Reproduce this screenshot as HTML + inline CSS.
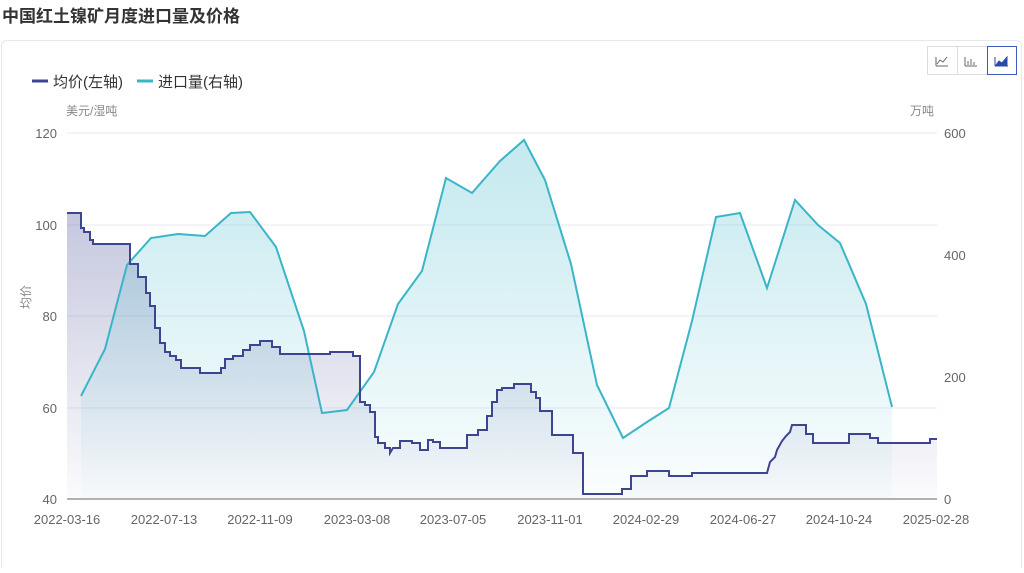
<!DOCTYPE html>
<html><head><meta charset="utf-8"><style>
body{margin:0;background:#fff;font-family:"Liberation Sans","Noto Sans CJK SC",sans-serif;}
</style></head><body>
<svg width="1024" height="568" xmlns="http://www.w3.org/2000/svg" font-family="Liberation Sans, Noto Sans CJK SC, sans-serif">
<defs>
<linearGradient id="gp" x1="0" y1="0" x2="0" y2="1"><stop offset="0" stop-color="#3d4590" stop-opacity="0.3"/><stop offset="1" stop-color="#3d4590" stop-opacity="0.02"/></linearGradient>
<linearGradient id="gi" x1="0" y1="0" x2="0" y2="1"><stop offset="0" stop-color="#3ab5c8" stop-opacity="0.3"/><stop offset="1" stop-color="#3ab5c8" stop-opacity="0.02"/></linearGradient>
</defs>
<text x="2" y="22" font-size="17" font-weight="bold" fill="#333">中国红土镍矿月度进口量及价格</text>
<rect x="1.5" y="40.5" width="1020" height="540" rx="5" fill="#fff" stroke="#e6e8ee"/>
<g stroke="#ddd" fill="#fff"><rect x="927.5" y="46.5" width="30" height="28"/><rect x="957.5" y="46.5" width="30" height="28"/></g>
<rect x="987.5" y="46.5" width="29" height="28" fill="#fff" stroke="#3b5cb8"/>
<path d="M936 66h12M936 66v-9M937 64l3-4 3 2 4-5" stroke="#666" fill="none"/>
<path d="M965 66h12M965 66v-9M968 65v-4M971 65v-6M974 65v-3" stroke="#666" fill="none"/>
<path d="M995 66h13M995 66v-9M996 65l3-4 3 2 5-6v8z" stroke="#2a4ca8" fill="#2a4ca8"/>
<line x1="32" y1="81" x2="48" y2="81" stroke="#3d4590" stroke-width="3"/>
<text x="53" y="87" font-size="15" fill="#333">均价(左轴)</text>
<line x1="137" y1="81" x2="153" y2="81" stroke="#3ab5c8" stroke-width="3"/>
<text x="158" y="87" font-size="15" fill="#333">进口量(右轴)</text>
<text x="66" y="115" font-size="12" fill="#888">美元/湿吨</text>
<text x="910" y="115" font-size="12" fill="#888">万吨</text>
<text x="30" y="297" font-size="12" fill="#888" transform="rotate(-90 30 297)" text-anchor="middle">均价</text>
<g stroke="#e8eaf2"><line x1="67" y1="133" x2="937" y2="133"/><line x1="67" y1="225" x2="937" y2="225"/><line x1="67" y1="316" x2="937" y2="316"/><line x1="67" y1="408" x2="937" y2="408"/></g>
<line x1="67" y1="499" x2="937" y2="499" stroke="#666"/>
<g font-size="13" fill="#666" text-anchor="end"><text x="57" y="138">120</text><text x="57" y="230">100</text><text x="57" y="321">80</text><text x="57" y="413">60</text><text x="57" y="504">40</text></g>
<g font-size="13" fill="#666"><text x="944" y="138">600</text><text x="944" y="260">400</text><text x="944" y="382">200</text><text x="944" y="504">0</text></g>
<g font-size="13" fill="#666" text-anchor="middle"><text x="67" y="524">2022-03-16</text><text x="164" y="524">2022-07-13</text><text x="260" y="524">2022-11-09</text><text x="357" y="524">2023-03-08</text><text x="453" y="524">2023-07-05</text><text x="550" y="524">2023-11-01</text><text x="646" y="524">2024-02-29</text><text x="743" y="524">2024-06-27</text><text x="839" y="524">2024-10-24</text><text x="936" y="524">2025-02-28</text></g>
<path id="pl" d="M67 213H81V228H84V232H90V240H93V244H130V264H138V277H146V293H150V306H155V328H160V343H165V352H170V356H176V360H181V368H200V373H221V368H225V359H233V356H243V350H250V345H260V341H272V347H280V354H330V352H353V356H360V402H365V405H370V412H375V437H378V443H385V448H390V453L393 448H400V441H412V443H420V450H428V440H433V442H440V448H467V435H478V430H487V416H492V402H497V390H502V388H514V384H531V392H536V398H540V411H552V435H573V453H583V494H622V489H631V476H647V471H669V476H692V473H767L770 462L775 457L777 450L782 441L786 436L790 432L792 425H806V434H813V443H849V434H870V438H878V443H930V439H937" fill="none"/>
<path d="M67 499V213H81V228H84V232H90V240H93V244H130V264H138V277H146V293H150V306H155V328H160V343H165V352H170V356H176V360H181V368H200V373H221V368H225V359H233V356H243V350H250V345H260V341H272V347H280V354H330V352H353V356H360V402H365V405H370V412H375V437H378V443H385V448H390V453L393 448H400V441H412V443H420V450H428V440H433V442H440V448H467V435H478V430H487V416H492V402H497V390H502V388H514V384H531V392H536V398H540V411H552V435H573V453H583V494H622V489H631V476H647V471H669V476H692V473H767L770 462L775 457L777 450L782 441L786 436L790 432L792 425H806V434H813V443H849V434H870V438H878V443H930V439H937V499Z" fill="url(#gp)"/>
<path d="M81 499V396L105 349L127 265L151 238L178 234L205 236L231 213L250 212L276 247L304 331L322 413L347 410L374 372L398 304L422 271L446 178L472 193L500 161L524 140L545 180L571 264L597 385L623 438L647 422L669 408L692 321L716 217L740 213L767 288L795 200L818 225L840 243L866 304L892 407V499Z" fill="url(#gi)"/>
<path d="M81 396L105 349L127 265L151 238L178 234L205 236L231 213L250 212L276 247L304 331L322 413L347 410L374 372L398 304L422 271L446 178L472 193L500 161L524 140L545 180L571 264L597 385L623 438L647 422L669 408L692 321L716 217L740 213L767 288L795 200L818 225L840 243L866 304L892 407" fill="none" stroke="#3ab5c8" stroke-width="2"/>
<use href="#pl" stroke="#3d4590" stroke-width="2"/>
</svg>
</body></html>
